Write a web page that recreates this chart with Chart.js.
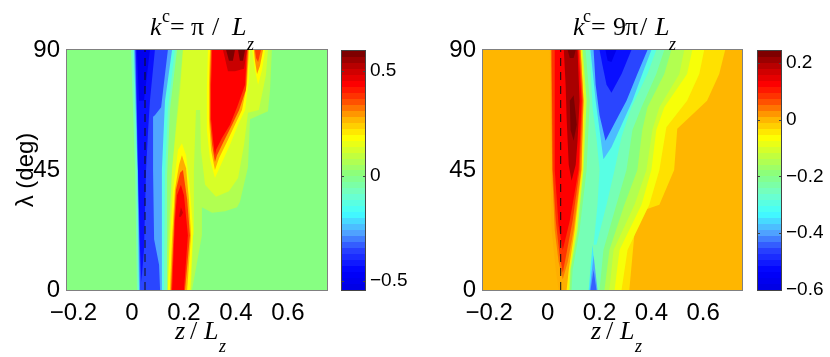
<!DOCTYPE html>
<html>
<head>
<meta charset="utf-8">
<style>
  html, body { margin: 0; padding: 0; background: #fff; }
  canvas { position: absolute; top: 0; }
</style>
<script src="https://cdn.jsdelivr.net/npm/chart.js@4"></script>
</head>
<body>
<canvas id="left-map" width="335" height="357" style="left:0"></canvas>
<canvas id="left-bar" width="81" height="357" style="left:335px"></canvas>
<canvas id="right-map" width="334" height="357" style="left:416px"></canvas>
<canvas id="right-bar" width="80" height="357" style="left:750px"></canvas>
<script>
// Axis ticks
const zTicks = [-0.2, 0, 0.2, 0.4, 0.6];
const lambdaTicks = [0, 45, 90];
const leftBarTicks = [-0.5, 0, 0.5];
const rightBarTicks = [-0.6, -0.4, -0.2, 0, 0.2];

// Colour bar ranges
const leftRange = [-0.545, 0.596];
const rightRange = [-0.6, 0.242];

// Dashed marker
const markerZ = 0.05;

// Contour bands, painted in order: level + outline of [z, lambda]
const leftLevels = [
  0, 0.07, -0.043, 0.03, 0.128,
  0.185, 0.276, 0.368, 0.436, 0.505,
  0.185, 0.276, 0.368, 0.436, 0.505, 0.585, 0.585,
  0.185, 0.3, 0.368,
  -0.066, -0.134, -0.27, -0.35, -0.43, -0.5,
];
const leftBands = [
  [[-0.25, 0], [0.75, 0], [0.75, 90], [-0.25, 90]],
  [[0.108, 90], [0.538, 90], [0.531, 75], [0.523, 67], [0.454, 64], [0.446, 46], [0.415, 33], [0.404, 31], [0.358, 29.5], [0.308, 29], [0.269, 31], [0.269, 20.5], [0.231, 0], [0.108, 0]],
  [[0.25, 90], [0.281, 90], [0.273, 85.5], [0.258, 85.5]],
  [[0.108, 90], [0.196, 90], [0.177, 71], [0.154, 45], [0.138, 19], [0.127, 0], [0.108, 0]],
  [[0.196, 90], [0.185, 75], [0.169, 60], [0.154, 45], [0.146, 26], [0.138, 0], [0.227, 0], [0.235, 20.5], [0.238, 45], [0.246, 67.5], [0.262, 67.5], [0.265, 52.5], [0.281, 39.5], [0.323, 35], [0.373, 37], [0.408, 42], [0.431, 54.5], [0.446, 66.5], [0.488, 67.5], [0.515, 80.5], [0.523, 90]],
  // lower red blob
  [[0.138, 0], [0.146, 19], [0.158, 37.5], [0.177, 52.5], [0.192, 55], [0.208, 50.5], [0.223, 37.5], [0.235, 22.5], [0.223, 0]],
  [[0.146, 0], [0.154, 19], [0.165, 37.5], [0.181, 47], [0.192, 50.5], [0.208, 45.7], [0.219, 34], [0.227, 20.5], [0.212, 0]],
  [[0.15, 0], [0.162, 26], [0.169, 37.5], [0.185, 44], [0.196, 45], [0.212, 34], [0.223, 20.5], [0.204, 0]],
  [[0.154, 0], [0.165, 26], [0.173, 35.5], [0.188, 39.5], [0.2, 35.5], [0.215, 20.5], [0.2, 0]],
  [[0.181, 27.5], [0.188, 31], [0.196, 29], [0.188, 27.5]],
  // upper red plume
  [[0.292, 90], [0.454, 90], [0.45, 79], [0.435, 67.5], [0.408, 62], [0.377, 54.5], [0.342, 47], [0.319, 42], [0.3, 49], [0.288, 60], [0.288, 75]],
  [[0.3, 90], [0.45, 90], [0.442, 77], [0.423, 67.5], [0.396, 62], [0.365, 55.5], [0.335, 49.5], [0.319, 45], [0.304, 52.5], [0.296, 64], [0.296, 77]],
  [[0.304, 90], [0.446, 90], [0.438, 75], [0.412, 67.5], [0.385, 62], [0.354, 56], [0.327, 50.5], [0.319, 48], [0.308, 54.5], [0.3, 64], [0.3, 77]],
  [[0.308, 90], [0.442, 90], [0.435, 77], [0.404, 68.5], [0.377, 62], [0.346, 57], [0.323, 52.5], [0.319, 50.5], [0.312, 56], [0.304, 64], [0.304, 77]],
  [[0.35, 90], [0.442, 90], [0.431, 83], [0.396, 82], [0.369, 82]],
  [[0.362, 90], [0.396, 90], [0.388, 86], [0.373, 86]],
  [[0.408, 90], [0.435, 90], [0.427, 86], [0.415, 86]],
  // second small lobe
  [[0.462, 90], [0.512, 90], [0.5, 82.5], [0.485, 77], [0.473, 82.5]],
  [[0.469, 90], [0.504, 90], [0.492, 84], [0.481, 81], [0.473, 86]],
  [[0.473, 90], [0.496, 90], [0.485, 85.5], [0.477, 87]],
  // blue stripe
  [[-0.004, 90], [0.012, 45], [0.019, 0], [0.135, 0], [0.135, 43], [0.146, 67.5], [0.173, 90]],
  [[0.004, 90], [0.019, 45], [0.025, 0], [0.123, 0], [0.127, 43], [0.138, 67.5], [0.165, 90]],
  [[0.008, 90], [0.021, 45], [0.027, 0], [0.115, 0], [0.115, 45], [0.127, 71], [0.154, 90]],
  [[0.012, 90], [0.023, 45], [0.031, 0], [0.108, 0], [0.104, 9.5], [0.085, 19], [0.081, 45], [0.081, 65], [0.088, 65.5], [0.112, 68.5], [0.127, 81], [0.138, 90]],
  [[0.015, 90], [0.023, 45], [0.031, 15], [0.036, 3], [0.046, 15], [0.054, 45], [0.062, 60], [0.069, 71], [0.088, 90]],
  [[0.019, 90], [0.027, 71], [0.046, 71], [0.069, 90]],
];

const rightLevels = [
  0, -0.036, -0.07, -0.112, -0.145, -0.196, -0.246, -0.297,
  -0.347, -0.398, -0.44,
  -0.381, -0.457, -0.516, -0.575,
  -0.196, -0.112, -0.053, 0.006, 0.04, 0.082, 0.124, 0.2, 0.234, 0.234,
];
const rightBands = [
  [[-0.25, 0], [0.75, 0], [0.75, 90], [-0.25, 90]],
  // warm to cold, going leftwards from the background
  [[0.065, 90], [0.685, 90], [0.662, 81], [0.615, 71], [0.5, 60.5], [0.488, 45], [0.431, 32], [0.342, 29], [0.315, 0], [0.065, 0]],
  [[0.065, 90], [0.604, 90], [0.585, 81], [0.538, 71], [0.458, 61], [0.431, 45], [0.392, 32], [0.308, 15], [0.285, 0], [0.065, 0]],
  [[0.065, 90], [0.558, 90], [0.538, 81], [0.45, 68.5], [0.419, 60], [0.4, 45], [0.362, 32], [0.277, 15], [0.258, 0], [0.065, 0]],
  [[0.065, 90], [0.527, 90], [0.508, 81], [0.431, 68.5], [0.404, 60], [0.381, 45], [0.335, 32], [0.254, 15], [0.238, 0], [0.065, 0]],
  [[0.065, 90], [0.477, 90], [0.45, 81], [0.385, 68.5], [0.365, 60], [0.346, 45], [0.296, 32], [0.238, 15], [0.219, 0], [0.065, 0]],
  [[0.065, 90], [0.45, 90], [0.419, 81], [0.362, 68.5], [0.327, 60], [0.304, 45], [0.265, 32], [0.215, 15], [0.2, 0], [0.065, 0]],
  [[0.162, 90], [0.419, 90], [0.385, 81], [0.323, 68.5], [0.285, 57.5], [0.258, 45], [0.227, 32], [0.188, 17], [0.177, 17], [0.192, 32], [0.2, 45], [0.188, 57], [0.173, 68.5]],
  // small blue spot at the bottom
  [[0.158, 0], [0.173, 17], [0.188, 0]],
  [[0.162, 0], [0.177, 13], [0.192, 0]],
  [[0.165, 0], [0.177, 7.5], [0.188, 0]],
  // blue V at the top
  [[0.165, 90], [0.4, 90], [0.365, 81], [0.327, 71], [0.288, 62.5], [0.246, 53.5], [0.215, 49], [0.2, 60], [0.185, 71]],
  [[0.177, 90], [0.385, 90], [0.346, 81], [0.304, 71], [0.258, 62.5], [0.223, 56], [0.2, 65.5], [0.185, 77]],
  [[0.2, 90], [0.323, 90], [0.285, 81], [0.246, 74], [0.227, 77], [0.212, 84]],
  [[0.223, 90], [0.265, 90], [0.246, 85.5], [0.231, 86]],
  // red core
  [[0.146, 90], [0.162, 71], [0.15, 45], [0.123, 22.5], [0.096, 7.5], [0.092, 0], [0.065, 0], [0.065, 90]],
  [[0.135, 90], [0.15, 71], [0.138, 45], [0.115, 22.5], [0.088, 7.5], [0.085, 0], [0.065, 0], [0.065, 90]],
  [[0.131, 90], [0.142, 71], [0.135, 45], [0.108, 22.5], [0.085, 7.5], [0.081, 0], [0.065, 0], [0.065, 90]],
  [[0.008, 90], [0.127, 90], [0.138, 71], [0.131, 45], [0.104, 22.5], [0.081, 7.5], [0.073, 0], [0.042, 0], [0.031, 7.5], [0.015, 22.5], [0.012, 45]],
  [[0.012, 90], [0.127, 90], [0.138, 71], [0.129, 45], [0.1, 22.5], [0.077, 10.5], [0.058, 4], [0.042, 10.5], [0.027, 22.5], [0.017, 45]],
  [[0.015, 90], [0.123, 90], [0.135, 71], [0.123, 45], [0.096, 26], [0.069, 12], [0.058, 6.5], [0.046, 13], [0.031, 26], [0.019, 45]],
  [[0.027, 90], [0.119, 90], [0.131, 71], [0.119, 45], [0.085, 26], [0.058, 15], [0.042, 24], [0.027, 45]],
  [[0.062, 90], [0.115, 90], [0.123, 71], [0.115, 56], [0.108, 47], [0.092, 41], [0.081, 47], [0.073, 64], [0.069, 77]],
  [[0.085, 71], [0.1, 73], [0.112, 62], [0.1, 56], [0.088, 60]],
  [[0.077, 90], [0.108, 90], [0.1, 87], [0.085, 87]],
];

// Colour map of the bars: fraction of the range, colour
const mapFractions = [0, 0.08, 0.17, 0.24, 0.32, 0.4, 0.48, 0.56, 0.64, 0.72, 0.8, 0.86, 0.93, 1];
const mapColors = ["#0000e0", "#0000ff", "#2a45ff", "#50a5ff", "#40ffff", "#70ffc8", "#88ff80", "#bfff40", "#ffff00", "#ffae00", "#ff4000", "#ff0000", "#c00000", "#700000"];
const BAR_STEPS = 40;

const SANS = '"Liberation Sans", Arial, sans-serif';
const SERIF = '"Liberation Serif", "Times New Roman", serif';

function mapColor(f) {
  let i = 0;
  while (i < mapFractions.length - 2 && f > mapFractions[i + 1]) i++;
  const u = Math.min(1, Math.max(0, (f - mapFractions[i]) / (mapFractions[i + 1] - mapFractions[i])));
  const a = parseInt(mapColors[i].slice(1), 16);
  const b = parseInt(mapColors[i + 1].slice(1), 16);
  const mix = (s) => Math.round(((a >> s) & 255) * (1 - u) + ((b >> s) & 255) * u);
  return `rgb(${mix(16)},${mix(8)},${mix(0)})`;
}

function fixedTicks(values) {
  return (scale) => { scale.ticks = values.map((value) => ({ value })); };
}

function minusLabel(value) {
  return String(value).replace("-", "\u2212");
}

// box round the plot, and short inner ticks for the colour bars
const framePlugin = {
  id: "frame",
  afterDraw(chart, args, opts) {
    const { ctx, chartArea: a } = chart;
    ctx.save();
    ctx.strokeStyle = opts.color;
    ctx.lineWidth = 1;
    ctx.strokeRect(a.left - 0.5, a.top - 0.5, a.width + 1, a.height + 1);
    if (opts.innerTicks) {
      const y = chart.scales.y;
      y.ticks.forEach((t) => {
        const p = Math.round(y.getPixelForValue(t.value)) + 0.5;
        ctx.beginPath();
        ctx.moveTo(a.left, p); ctx.lineTo(a.left + 2, p);
        ctx.moveTo(a.right - 2, p); ctx.lineTo(a.right, p);
        ctx.stroke();
      });
    }
    ctx.restore();
  },
};

// math labels with italics and sub/superscripts: [text, x, baseline, font]
const mathPlugin = {
  id: "mathText",
  afterDraw(chart, args, opts) {
    const { ctx } = chart;
    ctx.save();
    ctx.fillStyle = "#000";
    ctx.textAlign = "left";
    ctx.textBaseline = "alphabetic";
    (opts.pieces || []).forEach(([text, x, y, font]) => {
      ctx.font = font;
      ctx.fillText(text, x, y);
    });
    ctx.restore();
  },
};

const big = `26px ${SERIF}`;
const bigItalic = `italic 26px ${SERIF}`;
const small = `18px ${SERIF}`;
const smallItalic = `italic 18px ${SERIF}`;

const axisTitlePieces = [
  ["z", 175, 339, bigItalic],
  ["/", 190, 339, big],
  ["L", 204, 339, bigItalic],
  ["z", 219, 352, smallItalic],
];
const leftTitlePieces = [
  ["k", 150, 35, bigItalic], ["c", 162, 22, small], ["=", 170, 35, big],
  ["\u03c0", 191, 35, big], ["/", 212, 35, big], ["L", 232, 35, bigItalic], ["z", 247, 50, smallItalic],
];
const rightTitlePieces = [
  ["k", 157, 35, bigItalic], ["c", 167, 22, small], ["=", 175, 35, big], ["9", 197, 35, big],
  ["\u03c0", 209, 35, big], ["/", 224, 35, big], ["L", 239, 35, bigItalic], ["z", 253, 50, smallItalic],
];

function makeMap(id, bands, levels, range, pieces, yTitle) {
  const datasets = bands.map((band, i) => {
    const f = (levels[i] - range[0]) / (range[1] - range[0]);
    return {
      data: band.map(([x, y]) => ({ x, y })),
      showLine: true,
      fill: "shape",
      backgroundColor: mapColor(f),
      borderWidth: 0,
      pointRadius: 0,
      order: -i,
    };
  });
  datasets.push({
    data: [{ x: markerZ, y: 0 }, { x: markerZ, y: 90 }],
    showLine: true,
    borderColor: "#111",
    borderWidth: 1,
    borderDash: [8, 6],
    pointRadius: 0,
    order: -1000,
  });

  return new Chart(document.getElementById(id), {
    type: "scatter",
    data: { datasets },
    options: {
      responsive: false,
      animation: false,
      layout: { autoPadding: false, padding: { top: 50, right: 8 } },
      plugins: {
        legend: { display: false },
        tooltip: { enabled: false },
        frame: { color: "#808080" },
        mathText: { pieces: pieces.concat(axisTitlePieces) },
      },
      scales: {
        x: {
          type: "linear",
          min: -0.25,
          max: 0.75,
          afterBuildTicks: fixedTicks(zTicks),
          afterFit: (s) => { s.height = 67; },
          grid: { display: false, drawTicks: false },
          border: { display: false },
          ticks: {
            autoSkip: false,
            maxRotation: 0,
            padding: 9,
            color: "#000",
            font: { family: SANS, size: 24 },
            callback: (v) => (v === -0.2 ? "\u22120.2\u00a0\u00a0" : minusLabel(v)),
          },
        },
        y: {
          type: "linear",
          min: 0,
          max: 90,
          afterBuildTicks: fixedTicks(lambdaTicks),
          afterFit: (s) => { s.width = 67; },
          grid: { display: false, drawTicks: false },
          border: { display: false },
          title: {
            display: !!yTitle,
            text: yTitle,
            color: "#000",
            font: { family: SANS, size: 24 },
            padding: { top: 12, bottom: 0 },
          },
          ticks: {
            padding: 7,
            color: "#000",
            font: { family: SANS, size: 24 },
            callback: (v) => String(v),
          },
        },
      },
    },
  });
}

function makeBar(id, range, ticks, left) {
  return new Chart(document.getElementById(id), {
    type: "bar",
    data: {
      labels: [""],
      datasets: [{
        data: [range],
        barPercentage: 1,
        categoryPercentage: 1,
        backgroundColor: (ctx) => {
          const a = ctx.chart.chartArea;
          if (!a) return "#fff";
          const g = ctx.chart.ctx.createLinearGradient(0, a.bottom, 0, a.top);
          for (let i = 0; i < BAR_STEPS; i++) {
            const c = mapColor((i + 0.5) / BAR_STEPS);
            g.addColorStop(i / BAR_STEPS, c);
            g.addColorStop((i + 1) / BAR_STEPS, c);
          }
          return g;
        },
      }],
    },
    options: {
      responsive: false,
      animation: false,
      layout: { autoPadding: false, padding: { top: 51, bottom: 67, left } },
      plugins: {
        legend: { display: false },
        tooltip: { enabled: false },
        frame: { color: "#444", innerTicks: true },
      },
      scales: {
        x: { display: false },
        y: {
          position: "right",
          min: range[0],
          max: range[1],
          afterBuildTicks: fixedTicks(ticks),
          afterFit: (s) => { s.width = s.chart.width - left - 23; },
          grid: { display: false, drawTicks: false },
          border: { display: false },
          ticks: {
            padding: 5,
            color: "#000",
            font: { family: SANS, size: 19 },
            callback: (v) => minusLabel(v),
          },
        },
      },
    },
  });
}

Chart.register(framePlugin, mathPlugin);
makeMap("left-map", leftBands, leftLevels, leftRange, leftTitlePieces, "\u03bb (deg)");
makeBar("left-bar", leftRange, leftBarTicks, 7);
makeMap("right-map", rightBands, rightLevels, rightRange, rightTitlePieces, "");
makeBar("right-bar", rightRange, rightBarTicks, 8);
</script>
</body>
</html>
